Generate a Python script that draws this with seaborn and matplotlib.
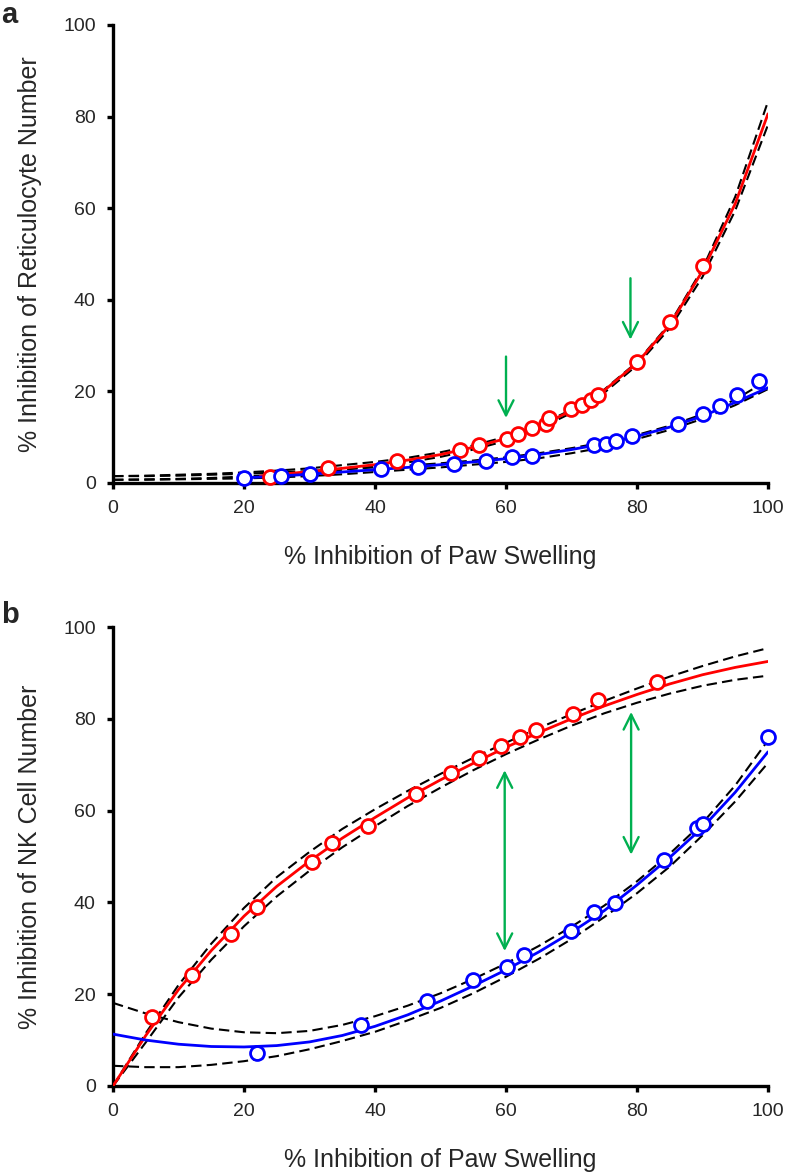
import matplotlib
matplotlib.use("Agg")
import matplotlib.pyplot as plt
import seaborn as sns
import numpy as np

# ---- panel a: reticulocyte number vs paw swelling ----
a_red_x = [24.0, 32.8, 43.4, 52.9, 55.9, 60.2, 61.9, 64.0, 66.1, 66.5, 69.9, 71.6, 73.0, 74.0, 80.0, 85.0, 90.0]
a_red_y = [1.3, 3.3, 4.7, 7.1, 8.4, 9.7, 10.8, 11.9, 12.9, 14.2, 16.2, 17.1, 18.2, 19.1, 26.5, 35.1, 47.3]
a_blue_x = [20.0, 25.7, 30.0, 40.9, 46.6, 52.1, 56.9, 60.9, 64.0, 73.5, 75.3, 76.8, 79.3, 86.2, 90.1, 92.7, 95.3, 98.6]
a_blue_y = [1.1, 1.6, 2.0, 3.1, 3.5, 4.1, 4.9, 5.6, 6.0, 8.4, 8.6, 9.2, 10.2, 12.9, 15.1, 16.9, 19.1, 22.2]

grid = [0, 5, 10, 15, 20, 25, 30, 35, 40, 45, 50, 55, 60, 65, 70, 75, 80, 85, 90, 95, 100]
fit_x_red_a = [22.5, 25, 30, 35, 40, 45, 50, 55, 60, 65, 70, 75, 80, 85, 90, 95, 100]
a_red_fit = [1.5, 1.8, 2.5, 3.2, 4.0, 5.0, 6.2, 7.8, 9.7, 12.3, 15.8, 20.2, 26.2, 34.5, 46.3, 61.0, 80.6]
a_red_hi = [1.5, 1.6, 1.8, 2.0, 2.3, 2.7, 3.2, 3.9, 4.6, 5.5, 6.7, 8.2, 10.1, 12.6, 16.0, 20.4, 26.4, 34.8, 46.8, 62.5, 83.3]
a_red_lo = [0.7, 0.8, 0.9, 1.1, 1.4, 1.8, 2.3, 2.9, 3.6, 4.5, 5.7, 7.3, 9.2, 11.8, 15.3, 19.7, 25.7, 33.8, 45.0, 59.5, 78.2]
fit_x_blue_a = [20, 25, 30, 35, 40, 45, 50, 55, 60, 65, 70, 75, 80, 85, 90, 95, 100]
a_blue_fit = [1.1, 1.5, 1.9, 2.4, 2.9, 3.4, 4.0, 4.6, 5.3, 6.2, 7.3, 8.6, 10.2, 12.2, 14.6, 17.6, 20.8]
a_blue_hi = [1.5, 1.5, 1.6, 1.8, 2.0, 2.3, 2.6, 3.0, 3.4, 3.8, 4.3, 4.9, 5.6, 6.5, 7.6, 8.9, 10.5, 12.5, 15.0, 18.2, 22.5]
a_blue_lo = [0.7, 0.7, 0.8, 0.9, 1.0, 1.2, 1.5, 1.9, 2.4, 2.9, 3.4, 4.0, 4.6, 5.4, 6.5, 7.8, 9.6, 11.6, 14.0, 17.0, 20.5]

# ---- panel b: NK cell number vs paw swelling ----
b_red_x = [6.0, 12.0, 18.0, 22.0, 30.4, 33.4, 38.9, 46.2, 51.6, 55.8, 59.2, 62.1, 64.6, 70.3, 74.1, 83.1]
b_red_y = [15.1, 24.1, 33.1, 38.9, 48.9, 53.0, 56.7, 63.6, 68.3, 71.5, 74.1, 76.1, 77.5, 81.0, 84.1, 88.0]
b_blue_x = [22.0, 37.9, 48.0, 55.0, 60.2, 62.7, 69.9, 73.5, 76.7, 84.1, 89.1, 90.1, 100.0]
b_blue_y = [7.1, 13.3, 18.5, 23.0, 25.9, 28.5, 33.7, 37.8, 39.9, 49.3, 56.2, 57.1, 76.1]

b_red_fit = [0, 11.0, 21.0, 29.5, 37.0, 43.5, 49.0, 54.0, 58.5, 62.8, 66.7, 70.3, 73.8, 77.0, 80.0, 82.8, 85.3, 87.6, 89.6, 91.2, 92.5]
b_red_hi = [0, 11.5, 22.0, 31.0, 38.8, 45.5, 51.0, 56.0, 60.3, 64.3, 68.0, 71.5, 74.8, 78.0, 81.0, 83.9, 86.6, 89.2, 91.5, 93.6, 95.4]
b_red_lo = [0, 9.5, 19.3, 27.5, 34.8, 41.3, 46.9, 52.0, 56.6, 61.0, 65.0, 68.8, 72.3, 75.5, 78.5, 81.2, 83.5, 85.5, 87.2, 88.5, 89.4]
b_blue_fit = [11.3, 10.0, 9.1, 8.6, 8.5, 8.8, 9.6, 11.0, 13.0, 15.5, 18.5, 21.8, 25.3, 29.2, 33.5, 38.2, 43.8, 49.8, 56.3, 64.0, 72.8]
b_blue_hi = [18.1, 15.8, 13.9, 12.5, 11.7, 11.5, 12.0, 13.3, 15.2, 17.5, 20.2, 23.3, 26.7, 30.5, 34.7, 39.3, 44.6, 50.6, 57.3, 65.5, 75.3]
b_blue_lo = [4.4, 4.1, 4.1, 4.6, 5.4, 6.5, 8.0, 9.8, 11.8, 14.3, 17.0, 20.2, 23.8, 27.7, 32.0, 36.8, 42.0, 47.8, 54.6, 62.0, 70.4]

# green arrows: (x, y_from, y_to)
a_arrows = [(60.0, 27.6, 14.2), (79.0, 44.7, 31.3)]
b_arrows = [(59.8, 29.4, 68.8), (79.1, 50.4, 81.5)]

ticks = [0, 20, 40, 60, 80, 100]
RED, BLUE, GREEN = "#FF0000", "#0000FF", "#00B050"

sns.set_style("ticks")
plt.rcParams["font.family"] = ["Liberation Sans", "DejaVu Sans"]

fig = plt.figure(figsize=(7.86, 11.72), dpi=100)
ax_a = fig.add_axes([0.1438, 0.5879, 0.8333, 0.3908])
ax_b = fig.add_axes([0.1438, 0.0734, 0.8333, 0.3916])


def draw_panel(ax, curves, points, arrows, arrowstyle, ylabel):
    dash = (0, (5, 2.5))
    for x, y, color, style in curves:
        sns.lineplot(x=x, y=y, ax=ax, color=color, linewidth=2.0 if style == "-" else 1.5,
                     linestyle=style if style == "-" else dash, sort=False, zorder=3)
    for x, y, color in points:
        sns.scatterplot(x=x, y=y, ax=ax, marker="o", s=100, facecolor="white",
                        edgecolor=color, linewidth=2.0, zorder=5, clip_on=False)
    for x, y0, y1 in arrows:
        ax.annotate("", xy=(x, y1), xytext=(x, y0),
                    arrowprops=dict(arrowstyle=arrowstyle, color=GREEN, lw=1.7,
                                    mutation_scale=18, shrinkA=0, shrinkB=0), zorder=6)
    ax.set_xlim(0, 100)
    ax.set_ylim(0, 100)
    ax.set_xticks(ticks)
    ax.set_yticks(ticks)
    ax.set_xticklabels([str(t) for t in ticks], fontsize=14)
    ax.set_yticklabels([str(t) for t in ticks], fontsize=14)
    sns.despine(ax=ax)
    for s in ("left", "bottom"):
        ax.spines[s].set_linewidth(2.4)
        ax.spines[s].set_color("black")
    ax.tick_params(direction="out", length=4.5, width=2.4, color="black", pad=8)
    ax.set_xlabel("% Inhibition of Paw Swelling", fontsize=18, va="center")
    ax.set_ylabel(ylabel, fontsize=18, va="center")
    ax.xaxis.set_label_coords(0.5, -0.162)
    ax.yaxis.set_label_coords(-0.127, 0.5)
    ax.grid(False)


arr = lambda v: np.asarray(v, dtype=float)
draw_panel(
    ax_a,
    [(arr(grid), arr(a_red_hi), "black", "--"), (arr(grid), arr(a_red_lo), "black", "--"),
     (arr(grid), arr(a_blue_hi), "black", "--"), (arr(grid), arr(a_blue_lo), "black", "--"),
     (arr(fit_x_red_a), arr(a_red_fit), RED, "-"), (arr(fit_x_blue_a), arr(a_blue_fit), BLUE, "-")],
    [(arr(a_red_x), arr(a_red_y), RED), (arr(a_blue_x), arr(a_blue_y), BLUE)],
    a_arrows, "->,head_length=0.6,head_width=0.3",
    "% Inhibition of Reticulocyte Number",
)
draw_panel(
    ax_b,
    [(arr(grid), arr(b_red_hi), "black", "--"), (arr(grid), arr(b_red_lo), "black", "--"),
     (arr(grid), arr(b_blue_hi), "black", "--"), (arr(grid), arr(b_blue_lo), "black", "--"),
     (arr(grid), arr(b_red_fit), RED, "-"), (arr(grid), arr(b_blue_fit), BLUE, "-")],
    [(arr(b_red_x), arr(b_red_y), RED), (arr(b_blue_x), arr(b_blue_y), BLUE)],
    b_arrows, "<->,head_length=0.6,head_width=0.3",
    "% Inhibition of NK Cell Number",
)

fig.text(0.002, 1 - 1 / 1172, "a", fontsize=21, fontweight="bold", va="top")
fig.text(0.002, 1 - 623 / 1172, "b", fontsize=21, fontweight="bold", va="baseline")

fig.savefig("out.png", dpi=100)
plt.close(fig)
